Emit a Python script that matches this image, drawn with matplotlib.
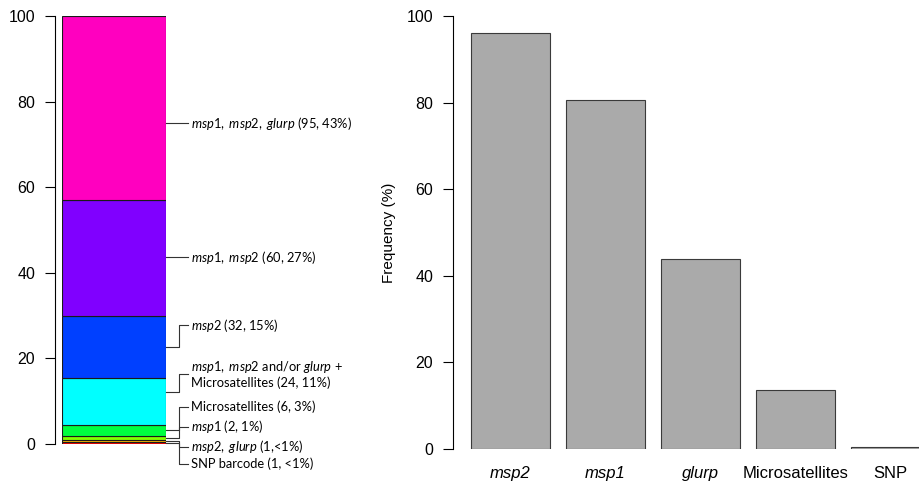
import matplotlib
matplotlib.use("Agg")
import matplotlib.pyplot as plt

plt.rcParams['font.family'] = ['Liberation Sans', 'DejaVu Sans']
plt.rcParams['mathtext.fontset'] = 'custom'
plt.rcParams['mathtext.rm'] = 'Lato'
plt.rcParams['mathtext.it'] = 'Lato:italic'

# ---- Left: stacked composition (counts -> percent) ----
seg_labels = [
    "SNP barcode (1, <1%)",
    r"$\mathit{msp2,\ glurp}$ (1,<1%)",
    r"$\mathit{msp1}$ (2, 1%)",
    "Microsatellites (6, 3%)",
    r"$\mathit{msp1},\ \mathit{msp2}$ and/or $\mathit{glurp}$ +" + "\n" + "Microsatellites (24, 11%)",
    r"$\mathit{msp2}$ (32, 15%)",
    r"$\mathit{msp1,\ msp2}$ (60, 27%)",
    r"$\mathit{msp1,\ msp2,\ glurp}$ (95, 43%)",
]
seg_counts = [1, 1, 2, 6, 24, 32, 60, 95]
seg_colors = ["#FF0000", "#FFBF00", "#80FF00", "#00FF40",
              "#00FFFF", "#0040FF", "#8000FF", "#FF00BF"]
# annotation anchor positions (percent) and label positions (percent)
attach_y = [0.23, 0.68, 1.36, 3.17, 12.1, 22.6, 43.6, 75.0]
label_y = [-4.7, -0.7, 4.0, 8.6, 16.4, 27.8, 43.6, 75.0]

# ---- Right: frequency of each marker ----
markers = ["msp2", "msp1", "glurp", "Microsatellites", "SNP"]
marker_italic = [True, True, True, False, False]
freq = [96.0, 80.5, 43.9, 13.6, 0.45]

W, H = 919, 487
fig = plt.figure(figsize=(W / 100, H / 100), dpi=100)

# left axes: bar spans pixel 62..166, y 0 at 444, 100 at 16
axL = fig.add_axes([62 / W, (H - 444) / H, 104 / W, 428 / H])
total = sum(seg_counts)
bottom = 0.0
for c, col in zip(seg_counts, seg_colors):
    p = 100.0 * c / total
    axL.bar(0, p, width=1, bottom=bottom, align='edge', color=col,
            edgecolor='#1a1a1a', linewidth=0.8)
    bottom += p
axL.set_xlim(0, 1)
axL.set_ylim(0, 100)
for s in ['top', 'right', 'bottom']:
    axL.spines[s].set_visible(False)
axL.spines['left'].set_position(('outward', 5))
axL.spines['left'].set_bounds(0, 100)
axL.spines['left'].set_linewidth(0.8)
axL.set_xticks([])
axL.set_yticks([0, 20, 40, 60, 80, 100])
axL.tick_params(axis='y', length=7.2, width=0.8, labelsize=11.5, pad=7)

x_elb, x_end, x_txt = 1.125, 1.21, 1.24
for lab, ay, ly in zip(seg_labels, attach_y, label_y):
    axL.plot([1.0, x_elb, x_elb, x_end], [ay, ay, ly, ly], color='#333333',
             linewidth=0.8, clip_on=False)
    axL.text(x_txt, ly, lab, fontsize=9.3, va='center', ha='left',
             family='Lato', clip_on=False, linespacing=1.1)

# right axes: left spine at 453, y 0 at 449, 100 at 16
axR = fig.add_axes([453 / W, (H - 449) / H, (W - 453) / W, 433 / H])
xpos = [0.7 + 1.2 * i for i in range(len(freq))]
axR.bar(xpos, freq, width=1.0, color='#AAAAAA', edgecolor='#3a3a3a',
        linewidth=0.8)
axR.set_xlim(-0.025, (W - 455) / 79.2)
axR.set_ylim(0, 100)
for s in ['top', 'right', 'bottom']:
    axR.spines[s].set_visible(False)
axR.spines['left'].set_bounds(0, 100)
axR.spines['left'].set_linewidth(0.8)
axR.set_yticks([0, 20, 40, 60, 80, 100])
axR.tick_params(axis='y', length=7.2, width=0.8, labelsize=11.5, pad=7)
axR.set_xticks(xpos)
axR.set_xticklabels(markers, fontsize=12)
for t, it in zip(axR.get_xticklabels(), marker_italic):
    if it:
        t.set_style('italic')
axR.tick_params(axis='x', length=0, pad=12)
axR.set_ylabel("Frequency (%)", fontsize=11, labelpad=8)

fig.savefig("out.png", dpi=100)
